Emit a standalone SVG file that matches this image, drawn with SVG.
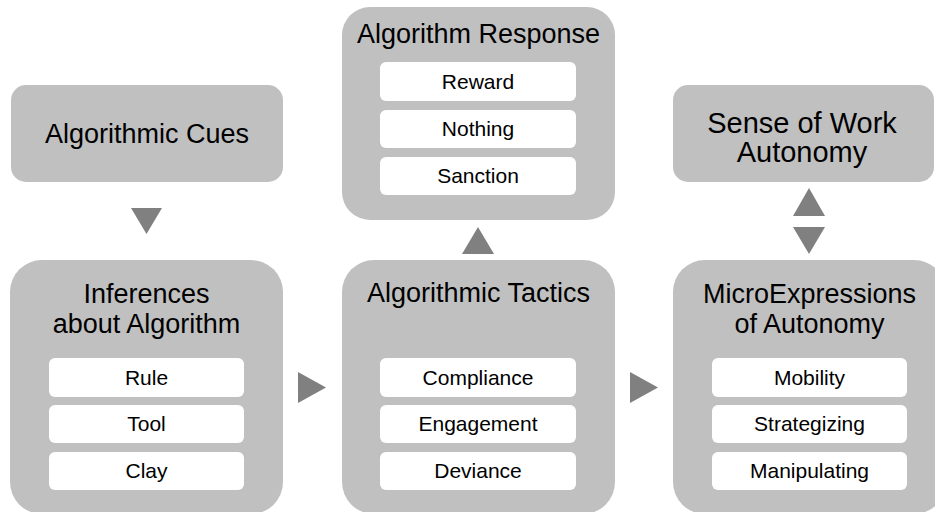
<svg xmlns="http://www.w3.org/2000/svg" width="935" height="512" viewBox="0 0 935 512">
<style>
.box{fill:#c0c0c0}
.item{fill:#ffffff}
.arr{fill:#808080}
.t{font-family:"Liberation Sans",Arial,sans-serif;font-size:27px;fill:#000;text-anchor:middle}
.s{font-family:"Liberation Sans",Arial,sans-serif;font-size:21px;fill:#000;text-anchor:middle}
</style>
<rect width="935" height="512" fill="#ffffff"/>
<g id="cues">
<rect class="box" x="11" y="85" width="272" height="97" rx="15"/>
<text class="t" x="147" y="143">Algorithmic Cues</text>
</g>
<g id="response">
<rect class="box" x="342" y="7" width="273" height="213" rx="28"/>
<text class="t" x="478.5" y="43">Algorithm Response</text>
<rect class="item" x="380" y="62" width="196" height="39" rx="6"/>
<text class="s" x="478" y="89">Reward</text>
<rect class="item" x="380" y="110" width="196" height="38" rx="6"/>
<text class="s" x="478" y="136">Nothing</text>
<rect class="item" x="380" y="157" width="196" height="38" rx="6"/>
<text class="s" x="478" y="183">Sanction</text>
</g>
<g id="sense">
<rect class="box" x="673" y="85" width="261" height="97" rx="15"/>
<text class="t" x="802" y="133" style="font-size:29px">Sense of Work</text>
<text class="t" x="802" y="162" style="font-size:29px">Autonomy</text>
</g>
<g id="inferences">
<rect class="box" x="10" y="260" width="273" height="254" rx="32"/>
<text class="t" x="146.5" y="303">Inferences</text>
<text class="t" x="146.5" y="333">about Algorithm</text>
<rect class="item" x="49" y="358" width="195" height="39" rx="6"/>
<text class="s" x="146.5" y="385">Rule</text>
<rect class="item" x="49" y="405" width="195" height="38" rx="6"/>
<text class="s" x="146.5" y="431">Tool</text>
<rect class="item" x="49" y="452" width="195" height="38" rx="6"/>
<text class="s" x="146.5" y="478">Clay</text>
</g>
<g id="tactics">
<rect class="box" x="342" y="260" width="273" height="254" rx="32"/>
<text class="t" x="478.5" y="302">Algorithmic Tactics</text>
<rect class="item" x="380" y="358" width="196" height="39" rx="6"/>
<text class="s" x="478" y="385">Compliance</text>
<rect class="item" x="380" y="405" width="196" height="38" rx="6"/>
<text class="s" x="478" y="431">Engagement</text>
<rect class="item" x="380" y="452" width="196" height="38" rx="6"/>
<text class="s" x="478" y="478">Deviance</text>
</g>
<g id="micro">
<rect class="box" x="673" y="260" width="273" height="254" rx="32"/>
<text class="t" x="809.5" y="303">MicroExpressions</text>
<text class="t" x="809.5" y="333">of Autonomy</text>
<rect class="item" x="712" y="358" width="195" height="39" rx="6"/>
<text class="s" x="809.5" y="385">Mobility</text>
<rect class="item" x="712" y="405" width="195" height="38" rx="6"/>
<text class="s" x="809.5" y="431">Strategizing</text>
<rect class="item" x="712" y="452" width="195" height="38" rx="6"/>
<text class="s" x="809.5" y="478">Manipulating</text>
</g>
<g id="connectors">
<polygon class="arr" points="131,208 162,208 146.5,234"/>
<polygon class="arr" points="298,372 326,387.5 298,403"/>
<polygon class="arr" points="630,372 658,387.5 630,403"/>
<polygon class="arr" points="462,254 494,254 478,227"/>
<polygon class="arr" points="793,216 825,216 809,188"/>
<polygon class="arr" points="793,227 825,227 809,254"/>
</g>
</svg>
